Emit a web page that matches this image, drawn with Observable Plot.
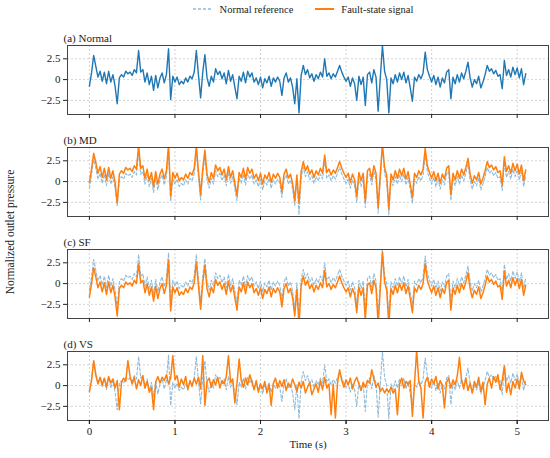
<!DOCTYPE html>
<html><head><meta charset="utf-8">
<script src="https://cdn.jsdelivr.net/npm/d3@7"></script>
<script src="https://cdn.jsdelivr.net/npm/@observablehq/plot@0.6"></script>
<style>
body{margin:0;background:#fff;font-family:"Liberation Serif","Times New Roman",serif;color:#222;}
#wrap{position:relative;width:550px;height:458px;overflow:hidden;}
#legend{height:18px;display:flex;align-items:center;justify-content:center;padding-left:56px;font-size:10.5px;}
#legend .item{display:flex;align-items:center;}
#legend svg{margin-right:7px;}
#ylab{position:absolute;left:10px;top:232px;transform:translate(-50%,-50%) rotate(-90deg);font-size:11.5px;white-space:nowrap;}
</style></head>
<body><div id="wrap">
<div id="legend">
  <div class="item" style="margin-right:22px"><svg width="20" height="6"><line x1="0" y1="3" x2="20" y2="3" stroke="#8fbbd9" stroke-width="1.3" stroke-dasharray="3,2"/></svg><span>Normal reference</span></div>
  <div class="item"><svg width="19" height="6"><line x1="0" y1="3" x2="19" y2="3" stroke="#ff7f0e" stroke-width="2"/></svg><span>Fault-state signal</span></div>
</div>
<div id="chart"></div>
<div id="ylab">Normalized outlet pressure</div>
</div>
<script>
const dt = 0.025;
const panels = ["a", "b", "c", "d"];
const panelTitles = ["(a) Normal", "(b) MD", "(c) SF", "(d) VS"];
const xTicks = [0, 1, 2, 3, 4, 5];
const yTicks = [-2.5, 0, 2.5];

const normal = [
 -0.8,0.8,2.9,1.6,0.3,1.0,-0.2,0.9,-0.5,1.0,
 -0.3,0.6,-0.8,-2.9,0.2,0.6,0.3,1.0,0.7,0.9,
 0.5,1.2,0.8,3.5,0.9,1.2,-0.3,0.8,-0.6,0.4,
 -1.3,0.5,-1.0,0.2,0.8,-0.4,0.6,3.7,-2.4,0.4,
 -0.3,0.3,-0.6,-0.2,-0.5,0.2,-0.3,0.4,0.1,0.9,
 3.5,0.5,-2.2,0.9,3.0,0.2,-0.8,0.4,-0.3,1.3,
 0.6,1.0,0.1,0.8,-0.5,1.1,-0.2,0.6,-0.9,-2.3,
 0.4,-0.2,0.9,-0.4,1.0,0.3,0.8,-0.3,0.2,-0.6,
 0.3,-1.0,0.1,-0.4,0.4,-0.8,0.2,-0.3,0.3,-0.2,
 -1.9,0.2,0.8,-0.3,0.2,-0.9,-2.9,0.1,-4.0,0.5,
 1.7,0.6,1.2,0.2,0.7,-0.2,0.6,0.1,0.9,0.3,
 2.5,0.4,0.8,0.1,0.7,0.3,1.0,1.7,0.9,0.3,
 -0.2,0.3,-0.8,0.2,-0.5,-2.5,0.4,-0.6,0.3,-3.1,
 0.6,0.9,-0.4,1.2,0.3,-3.8,0.2,4.1,1.0,0.0,
 -4.0,0.2,-0.5,0.6,-0.3,0.8,0.0,0.9,-0.4,0.5,
 -1.0,-2.6,0.3,-0.2,0.6,0.1,0.8,3.3,1.2,0.4,
 -0.3,0.5,-0.6,0.3,-0.9,0.2,-0.4,0.9,1.2,-2.3,
 0.3,-0.5,0.6,-0.3,0.8,0.1,1.0,2.1,0.2,-0.9,
 0.0,-0.5,0.4,-1.0,-0.3,0.6,1.7,1.0,1.3,0.7,
 1.1,0.4,0.6,-1.1,2.3,0.5,1.2,0.3,1.5,0.6,
 1.4,0.2,1.3,-0.6,0.7
];

const faultMD = [
 -0.1,1.5,3.4,2.3,1.0,1.8,0.5,1.6,0.2,1.7,
 0.4,1.3,-0.1,-2.6,0.9,1.3,1.0,1.7,1.4,1.6,
 1.2,1.9,1.5,4.3,1.6,1.9,0.4,1.5,0.1,1.1,
 -0.6,1.2,-0.3,0.9,1.5,0.3,1.3,4.4,-1.8,1.1,
 0.4,1.0,0.1,0.5,0.2,0.9,0.4,1.1,0.8,1.6,
 4.3,1.2,-1.6,1.6,3.8,0.9,-0.1,1.1,0.4,2.0,
 1.3,1.7,0.8,1.5,0.2,1.8,0.5,1.3,-0.2,-1.7,
 1.1,0.5,1.6,0.3,1.7,1.0,1.5,0.4,0.9,0.1,
 1.0,-0.3,0.8,0.3,1.1,-0.1,0.9,0.4,1.0,0.5,
 -1.2,0.9,1.5,0.4,0.9,-0.2,-2.3,0.8,-2.6,1.2,
 2.4,1.3,1.9,0.9,1.4,0.5,1.3,0.8,1.6,1.0,
 3.2,1.1,1.5,0.8,1.4,1.0,1.7,2.4,1.6,1.0,
 0.5,1.0,-0.1,0.9,0.2,-1.8,1.1,0.1,1.0,-2.4,
 1.3,1.6,0.3,1.9,1.0,-3.1,0.9,4.5,1.7,0.7,
 -3.3,0.9,0.2,1.3,0.4,1.5,0.7,1.6,0.3,1.2,
 -0.3,-1.9,1.0,0.5,1.3,0.8,1.5,4.0,1.9,1.1,
 0.4,1.2,0.1,1.0,-0.2,0.9,0.3,1.6,1.9,-1.6,
 1.0,0.2,1.3,0.4,1.5,0.8,1.7,2.8,0.9,-0.2,
 0.7,0.2,1.1,-0.3,0.4,1.3,2.4,1.7,2.0,1.4,
 1.8,1.1,1.3,-0.4,3.0,1.2,1.9,1.0,2.2,1.3,
 2.1,0.9,2.0,0.1,1.4
];

const faultSF = [
 -1.6,0.0,1.9,0.8,-0.5,0.2,-1.0,0.1,-1.3,0.2,
 -1.1,-0.2,-1.6,-3.9,-0.6,-0.2,-0.5,0.2,-0.1,0.1,
 -0.3,0.4,0.0,2.4,0.1,0.4,-1.1,0.0,-1.4,-0.4,
 -2.1,-0.3,-1.8,-0.6,0.0,-1.2,-0.2,2.8,-3.3,-0.4,
 -1.1,-0.5,-1.4,-1.0,-1.3,-0.6,-1.1,-0.4,-0.7,0.1,
 2.6,-0.3,-3.1,0.1,2.2,-0.6,-1.6,-0.4,-1.1,0.5,
 -0.2,0.2,-0.7,0.0,-1.3,0.3,-1.0,-0.2,-1.7,-3.2,
 -0.4,-1.0,0.1,-1.2,0.2,-0.5,0.0,-1.1,-0.6,-1.4,
 -0.5,-1.8,-0.7,-1.2,-0.4,-1.6,-0.6,-1.1,-0.5,-1.0,
 -2.8,-0.6,0.0,-1.1,-0.6,-1.7,-3.9,-0.7,-5.0,-0.3,
 0.9,-0.2,0.4,-0.6,-0.1,-1.0,-0.2,-0.7,0.1,-0.5,
 1.6,-0.4,0.0,-0.7,-0.1,-0.5,0.2,0.9,0.1,-0.5,
 -1.0,-0.5,-1.6,-0.6,-1.3,-3.5,-0.4,-1.4,-0.5,-4.4,
 -0.2,0.1,-1.2,0.4,-0.5,-4.9,-0.6,3.8,0.2,-0.8,
 -5.0,-0.6,-1.3,-0.2,-1.1,0.0,-0.8,0.1,-1.2,-0.3,
 -1.8,-3.5,-0.5,-1.0,-0.2,-0.7,0.0,2.4,0.4,-0.4,
 -1.1,-0.3,-1.4,-0.5,-1.7,-0.6,-1.2,0.1,0.4,-3.2,
 -0.5,-1.3,-0.2,-1.1,0.0,-0.7,0.2,1.3,-0.6,-1.7,
 -0.8,-1.3,-0.4,-1.8,-1.1,-0.2,0.9,0.2,0.5,-0.1,
 0.3,-0.4,-0.2,-1.9,1.5,-0.3,0.4,-0.5,0.7,-0.2,
 0.6,-0.6,0.5,-1.4,-0.2
];

const faultVS = [
 -0.7,0.6,3.0,1.2,0.2,1.0,0.1,0.9,-0.2,1.1,
 0.3,0.8,-0.3,0.6,-2.9,0.4,0.9,0.5,3.0,1.1,
 0.2,1.0,-0.4,0.7,0.0,1.2,-0.3,0.5,-0.8,-0.2,
 -2.9,0.4,1.1,0.3,1.0,0.6,1.3,0.2,0.9,3.6,
 0.7,1.2,-0.2,0.8,0.1,1.1,-0.5,0.6,-0.1,0.9,
 0.2,1.0,-0.4,3.6,-2.4,0.5,0.9,-0.2,0.7,0.1,
 1.0,-0.3,0.6,0.2,1.1,3.6,0.4,0.8,-2.1,0.3,
 3.2,0.6,-0.2,0.9,0.1,1.3,0.4,-0.5,0.6,-0.8,
 0.2,-0.4,0.5,-0.9,0.1,-2.4,0.3,0.9,-0.3,0.6,
 -0.1,0.7,-0.6,0.3,-0.2,0.8,0.1,-0.7,0.4,-0.3,
 0.5,-0.9,-0.2,0.4,-1.1,-0.4,0.2,-0.8,0.6,-0.5,
 1.0,-0.3,0.2,-3.5,0.2,-3.9,0.3,1.9,0.6,-0.2,
 0.7,0.1,0.9,-0.4,0.5,1.0,0.2,-0.6,0.4,-0.2,
 0.6,0.3,1.9,0.8,-0.2,0.3,-0.7,-0.3,-0.9,-0.4,
 -0.8,-0.2,-0.9,-0.4,-3.5,0.2,0.9,-0.3,0.5,0.1,
 0.6,-3.7,0.2,4.3,0.5,-0.3,-3.9,0.4,1.0,-0.2,
 0.8,0.2,1.1,-0.4,0.6,0.0,-2.7,0.4,0.9,-0.3,
 0.7,0.1,1.2,3.4,0.6,-0.4,0.9,-0.6,0.3,-0.9,
 0.5,-0.2,1.0,-0.7,0.4,-2.3,0.2,0.9,-0.3,1.1,
 0.4,1.3,-0.5,0.6,2.4,-0.8,0.3,-1.1,0.5,-0.3,
 0.8,-0.4,1.6,0.6,0.1
];

const faults = {b: faultMD, c: faultSF, d: faultVS};

const mainRows = normal.map((v, i) => ({panel: "a", t: i * dt, v}));
const refRows = [];
const faultRows = [];
for (const p of ["b", "c", "d"]) {
  normal.forEach((v, i) => refRows.push({panel: p, t: i * dt, v}));
  faults[p].forEach((v, i) => faultRows.push({panel: p, t: i * dt, v}));
}
const titleRows = panels.map((p, i) => ({panel: p, title: panelTitles[i]}));
const fmt = d => d === 0 ? "0" : (d < 0 ? "\u2212" : "") + Math.abs(d);

const chart = Plot.plot({
  width: 550,
  height: 440,
  marginLeft: 67,
  marginRight: 2,
  marginTop: 26,
  marginBottom: 36,
  style: {fontFamily: "'Liberation Serif','Times New Roman',serif", fontSize: "11px", color: "#222", background: "#fff"},
  x: {domain: [-0.256, 5.366]},
  y: {domain: [-4.2, 4.1]},
  fy: {domain: panels, paddingInner: 0.32, paddingOuter: 0, axis: null},
  marks: [
    Plot.gridX(xTicks, {stroke: "#b0b0b0", strokeOpacity: 0.7, strokeDasharray: "2,2", strokeWidth: 0.8}),
    Plot.gridY(yTicks, {stroke: "#b0b0b0", strokeOpacity: 0.7, strokeDasharray: "2,2", strokeWidth: 0.8}),
    Plot.lineY(refRows, {x: "t", y: "v", fy: "panel", stroke: "#8fbbd9", strokeWidth: 1.1, strokeDasharray: "3,2", clip: true}),
    Plot.lineY(mainRows, {x: "t", y: "v", fy: "panel", stroke: "#1f77b4", strokeWidth: 1.4, clip: true}),
    Plot.lineY(faultRows, {x: "t", y: "v", fy: "panel", stroke: "#ff7f0e", strokeWidth: 1.5, clip: true}),
    Plot.frame({stroke: "#444", strokeWidth: 1}),
    Plot.axisY(yTicks, {tickSize: 4, tickPadding: 3, tickFormat: fmt, label: null}),
    Plot.axisX(xTicks, {facetAnchor: null, tickSize: 4, tickFormat: () => "", label: null}),
    Plot.axisX(xTicks, {tickSize: 4, tickPadding: 3, tickFormat: d => String(d), label: "Time (s)", labelAnchor: "center", labelArrow: "none", labelOffset: 27}),
    Plot.text(titleRows, {fy: "panel", text: "title", frameAnchor: "top-left", textAnchor: "start", lineAnchor: "bottom", dx: -4, dy: -4, fontSize: 11})
  ]
});
document.getElementById("chart").appendChild(chart);
</script>
</body></html>
